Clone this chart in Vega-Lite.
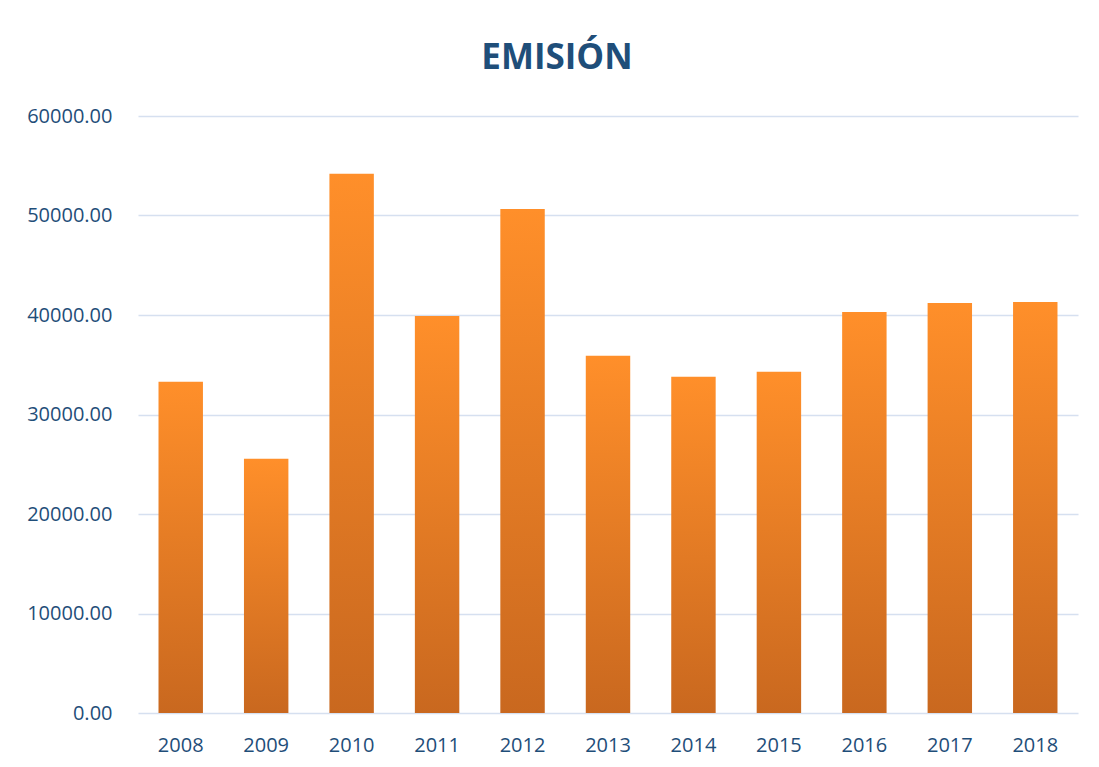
{
  "$schema": "https://vega.github.io/schema/vega-lite/v6.json",
  "width": 940,
  "height": 597,
  "autosize": {"type": "none"},
  "padding": {"left": 138, "top": 116, "right": 21, "bottom": 54},
  "background": "white",
  "title": {
    "text": "EMISIÓN",
    "font": "Open Sans",
    "fontSize": 35,
    "fontWeight": "bold",
    "color": "#1F4E79",
    "anchor": "middle",
    "offset": 30,
    "dx": -51
  },
  "data": {
    "values": [
      {"year": "2008", "value": 33300},
      {"year": "2009", "value": 25550},
      {"year": "2010", "value": 54200},
      {"year": "2011", "value": 39900},
      {"year": "2012", "value": 50650},
      {"year": "2013", "value": 35900},
      {"year": "2014", "value": 33800},
      {"year": "2015", "value": 34300},
      {"year": "2016", "value": 40300},
      {"year": "2017", "value": 41200},
      {"year": "2018", "value": 41300}
    ]
  },
  "mark": {
    "type": "bar",
    "color": {
      "gradient": "linear",
      "x1": 0, "y1": 0, "x2": 0, "y2": 1,
      "stops": [
        {"offset": 0, "color": "#FF8F2A"},
        {"offset": 1, "color": "#C9681F"}
      ]
    }
  },
  "encoding": {
    "x": {
      "field": "year",
      "type": "ordinal",
      "title": null,
      "scale": {"paddingInner": 0.48, "paddingOuter": 0.24},
      "axis": {
        "labelAngle": 0,
        "ticks": false,
        "domain": false,
        "labelPadding": 22,
        "labelFont": "Open Sans",
        "labelFontSize": 20,
        "labelColor": "#1F4E79"
      }
    },
    "y": {
      "field": "value",
      "type": "quantitative",
      "title": null,
      "scale": {"domain": [0, 60000], "nice": false},
      "axis": {
        "values": [0, 10000, 20000, 30000, 40000, 50000, 60000],
        "format": ".2f",
        "ticks": false,
        "domain": false,
        "labelPadding": 26,
        "labelFont": "Open Sans",
        "labelFontSize": 20,
        "labelColor": "#1F4E79",
        "gridColor": "#D6E0F0",
        "gridWidth": 1.5
      }
    }
  },
  "config": {
    "view": {"stroke": null}
  }
}
